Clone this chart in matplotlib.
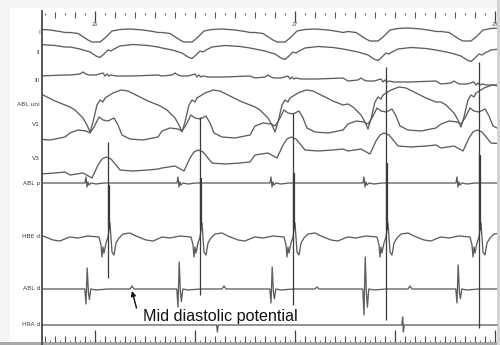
import numpy as np
import matplotlib
matplotlib.use('Agg')
import matplotlib.pyplot as plt
from matplotlib.patches import Rectangle

# --- timing (s), read against the 26 / 27 s marks of the top ruler ---
beat_t = [25.600, 26.065, 26.525, 26.990, 27.455, 27.920]   # ventricular spike per beat
atrial_t = [26.610, 27.540]                                 # HRA d deflections
atrial_dn = [7, 7]
atrial_up = [0, 8]

# channel names and the row each label sits on (px from top of page)
labels = ["I", "II", "III", "ABL uni", "V1", "V3", "ABL p", "HBE d", "ABL d", "HRA d"]
label_y = [33, 53, 80, 104, 125, 159, 183, 237, 289, 325]

# --- per channel: beat template (ms from spike, deflection) + baseline per beat ---
I_dt = [-190, -150, -100, -80, -40, -15, 20, 60, 110, 175, 225, 250]
I_dy = [0.5, 1.5, 8, 10, 10, 6, -1, -2.5, -3, -2, -0.5, 0.5]
I_base = [32, 32, 32, 32, 31, 31]

II_dt = [-190, -140, -90, -60, -40, -20, 0, 15, 30, 60, 125, 200, 250]
II_dy = [0, 2, 5, 9, 10.5, 7, 3, 4, 2, -1, -2.5, -1.5, 0]
II_base = [47, 47, 48, 49, 50, 51]

III_dt = [-190, -140, -125, -110, -95, -60, -25, -15, -5, 5, 15, 40, 120, 250]
III_dy = [0, -1, -3, -1, 0, 0, -2, 1, -1, 1, 0, 1, 1, 0]
III_base = [75, 75, 76, 78, 81, 84]

UNI_dt = [-190, -165, -125, -105, -90, -75, -55, -40, -25, -15, 25, 65, 100, 150, 200, 250]
UNI_dy = [17, 20, 28, 35, 42, 32, 15, 10, 12, 8, 3, 0, 1, 6, 11, 15]
UNI_base = [90, 90, 90, 90, 87, 85]

V1_dt = [-190, -150, -110, -90, -70, -45, -25, 0, 30, 50, 70, 110, 175, 250]
V1_dy = [-2, -5, -4, -2, -8, -18, -15, -14, -17, -10, 0, 4, 5, 2]
V1_base = [135, 135, 133, 128, 126, 126]

V3_dt = [-190, -125, -80, -50, -30, -10, 15, 40, 60, 125, 200, 250]
V3_dy = [2, 0, 5, -8, -14, -16, -14, -8, -3, -2, -3, -4]
V3_base = [176, 173, 166, 153, 149, 146]

ABLP_dt = [-150, -115, -110, -105, -100, -95, -85, -60, -20, 20, 120]
ABLP_dy = [0, 0, -6, 4, -1, 2, 0, 1, 0, 0, 0]
ABLP_base = [183] * 6

HBE_dt = [-190, -150, -100, -45, -35, -30, -25, -20, -10, 0, 10, 20, 30, 40, 55, 75,
          110, 140, 190, 225, 260]
HBE_dy = [0, 1, -1, 0, 8, 20, 10, 16, 6, 0, -14, 15, 18, 6, 1, -3, -4, -1, 3, 4, 1]
HBE_base = [237] * 6

# tall clipped HBE spikes (px rows): thin full line, and the doubled dark part
spike_top = [150, 142, 117, 113, 67, 62]
spike_bot = [270, 278, 295, 305, 320, 328]
thick_top = [185, 185, 178, 173, 163, 155]
thick_bot = [228, 228, 226, 228, 230, 230]

# ABL d: sharp local potential ~100 ms before the spike, small mid-diastolic bump after
ABLD_base = 289
ABLD_up = [22, 21, 27, 22, 32, 24]
ABLD_dn = [15, 15, 18, 14, 26, 14]
MDP_dt = 120
MDP_amp = [3, 3, 3, 2, 3, 2]

HRA_base = 325


def px_t(px):
    return 26 + (px - 95) / 200.0


def trace(dt_ms, dy, base):
    t, y = [], []
    for bt, b in zip(beat_t, base):
        t += [bt + d / 1000.0 for d in dt_ms]
        y += [b + v for v in dy]
    return t, y


fig = plt.figure(figsize=(5, 3.45), dpi=100)
fig.patch.set_facecolor('white')
ax = fig.add_axes([0, 0, 1, 1])
ax.set_xlim(px_t(0), px_t(500))
ax.set_ylim(345, 0)
ax.axis('off')

# page shadow
ax.add_patch(Rectangle((px_t(0), 0), 2.5, 8, color='#f4f4f4', lw=0, zorder=0))
ax.add_patch(Rectangle((px_t(0), 0), 0.05, 345, color='#f4f4f4', lw=0, zorder=0))
ax.add_patch(Rectangle((px_t(0), 342), 2.5, 3, color='#a8a8a8', lw=0, zorder=0))
ax.add_patch(Rectangle((px_t(497), 0), 0.02, 345, color='#d4d4d4', lw=0, zorder=0))

t_left, t_right = px_t(42), px_t(497)
clip = Rectangle((t_left, 0), t_right - t_left, 345, transform=ax.transData)

line_kw = dict(color='#5e5e5e', lw=0.95, solid_joinstyle='round')

chans = [(I_dt, I_dy, I_base), (II_dt, II_dy, II_base), (III_dt, III_dy, III_base),
         (UNI_dt, UNI_dy, UNI_base), (V1_dt, V1_dy, V1_base), (V3_dt, V3_dy, V3_base),
         (ABLP_dt, ABLP_dy, ABLP_base), (HBE_dt, HBE_dy, HBE_base)]
for dt, dy, base in chans:
    t, y = trace(dt, dy, base)
    ln, = ax.plot(t, y, **line_kw)
    ln.set_clip_path(clip)

# ABL d
t, y = [], []
for bt, up, dn, m in zip(beat_t, ABLD_up, ABLD_dn, MDP_amp):
    seg_dt = [-180, -116, -110, -104, -98, -93, -86, -60, 0, 60,
              MDP_dt - 10, MDP_dt, MDP_dt + 10, 200, 270]
    seg_dy = [0, 0, dn, -up, 3, 0.7 * dn, 0, 1, 0, 0, 0, -m, 0, 0, 0]
    t += [bt + d / 1000.0 for d in seg_dt]
    y += [ABLD_base + v for v in seg_dy]
ln, = ax.plot(t, y, **line_kw)
ln.set_clip_path(clip)

# HRA d
t, y = [px_t(42)], [HRA_base]
for at, dn, up in zip(atrial_t, atrial_dn, atrial_up):
    t += [at - 0.006, at - 0.002, at + 0.002, at + 0.006]
    y += [HRA_base, HRA_base - up, HRA_base + dn, HRA_base]
t.append(px_t(497))
y.append(HRA_base)
ax.plot(t, y, **line_kw)

# tall spikes
bt = np.array(beat_t)
sp = ax.vlines(bt, spike_top, spike_bot, color='#3a3a3a', lw=0.9)
sp.set_clip_path(clip)
sp2 = ax.vlines(bt + 0.004, thick_top, thick_bot, color='#3a3a3a', lw=1.6)
sp2.set_clip_path(clip)

# left axis line
ax.vlines(t_left, 10, 345, color='#4a4a4a', lw=1.3)

# top ruler
for tk in np.arange(25.75, 28.01, 0.05):
    k = int(round(tk * 20))
    if k % 20 == 0:
        ax.vlines(tk, 11, 22, color='#444', lw=0.9)
    elif k % 2 == 0:
        ax.vlines(tk, 12, 18, color='#555', lw=0.8)
    else:
        ax.vlines(tk, 12.5, 14.5, color='#666', lw=0.8)
for sec in [26, 27, 28]:
    ax.text(sec, 25, str(sec), fontsize=3.5, color='#444', ha='center', va='center')

# bottom ruler
for tk in np.arange(25.75, 28.01, 0.05):
    k = int(round(tk * 20))
    if k % 10 == 0:
        ax.vlines(tk, 330, 342, color='#444', lw=0.9)
    else:
        ax.vlines(tk, 336, 342, color='#555', lw=0.8)
for tk in np.arange(25.775, 28.0, 0.05):
    ax.vlines(tk, 339.5, 342, color='#777', lw=0.7)

# channel labels
for name, yy in zip(labels, label_y):
    ax.text(px_t(40), yy, name, fontsize=4.3, color='#3c3c3c', ha='right', va='center')

# annotation
ax.text(px_t(143), 316, "Mid diastolic potential", fontsize=11.6, color='#111',
        family='Liberation Sans', ha='left', va='center')
ax.annotate("", xy=(px_t(132), 291), xytext=(px_t(136.5), 308),
            arrowprops=dict(arrowstyle='-|>', color='#111', lw=1.0,
                            mutation_scale=7, shrinkA=0, shrinkB=0))

fig.savefig('out.png', dpi=100, facecolor=fig.get_facecolor())
